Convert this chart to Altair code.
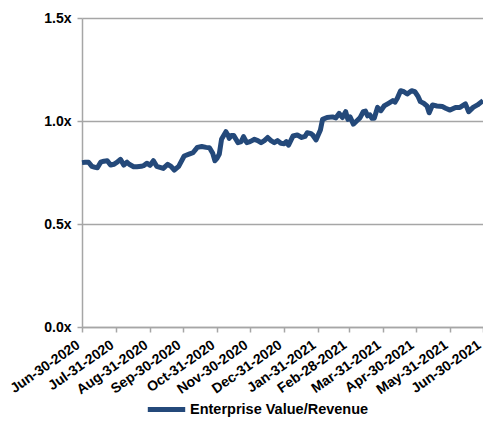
import altair as alt
import pandas as pd

# Days after 2020-06-30 and the EV/Revenue multiple
day_offsets = [0, 3, 6, 9, 12, 14, 17, 20, 23, 26, 29, 32, 35, 38, 41, 43, 47, 50, 54, 56,
               59, 62, 65, 68, 71, 74, 78, 81, 84, 88, 93, 98, 101, 105, 109, 113, 116, 119,
               121, 123, 125, 127, 131, 133, 134, 136, 138, 142, 145, 147, 150, 153, 157, 160,
               163, 166, 169, 172, 175, 178, 181, 184, 186, 188, 192, 196, 200, 203, 205, 208,
               210, 213, 217, 219, 223, 228, 231, 234, 237, 240, 242, 244, 247, 250, 253, 256,
               258, 260, 262, 264, 266, 269, 272, 275, 279, 283, 285, 287, 290, 293, 296, 300,
               303, 306, 308, 311, 314, 316, 319, 323, 328, 331, 335, 340, 344, 349, 352, 356,
               360, 365]
ev_revenue = [0.798, 0.80, 0.80, 0.78, 0.775, 0.773, 0.80, 0.805, 0.807, 0.786, 0.79, 0.80,
              0.814, 0.786, 0.80, 0.79, 0.778, 0.778, 0.78, 0.783, 0.795, 0.785, 0.807, 0.78,
              0.775, 0.77, 0.79, 0.78, 0.762, 0.78, 0.83, 0.84, 0.846, 0.872, 0.876, 0.872,
              0.87, 0.843, 0.807, 0.82, 0.84, 0.911, 0.948, 0.93, 0.916, 0.93, 0.93, 0.895,
              0.90, 0.924, 0.895, 0.90, 0.911, 0.905, 0.895, 0.905, 0.92, 0.905, 0.895, 0.905,
              0.892, 0.89, 0.90, 0.883, 0.927, 0.932, 0.92, 0.925, 0.943, 0.94, 0.932, 0.908,
              0.956, 1.008, 1.017, 1.02, 1.015, 1.037, 1.017, 1.045, 1.008, 1.02, 0.985, 1.0,
              1.015, 1.045, 1.048, 1.025, 1.03, 1.013, 1.013, 1.066, 1.05, 1.073, 1.086, 1.099,
              1.092, 1.11, 1.147, 1.142, 1.131, 1.147, 1.142, 1.118, 1.094, 1.086, 1.073, 1.04,
              1.078, 1.073, 1.07, 1.062, 1.053, 1.066, 1.066, 1.083, 1.045, 1.066, 1.078, 1.099]
series_name = "Enterprise Value/Revenue"

tick_dates = [(2020, 6, 30), (2020, 7, 31), (2020, 8, 31), (2020, 9, 30), (2020, 10, 31),
              (2020, 11, 30), (2020, 12, 31), (2021, 1, 31), (2021, 2, 28), (2021, 3, 31),
              (2021, 4, 30), (2021, 5, 31), (2021, 6, 30)]
y_ticks = [0.0, 0.5, 1.0, 1.5]

start = pd.Timestamp("2020-06-30")
df = pd.DataFrame({
    "date": [(start + pd.Timedelta(days=d)).strftime("%Y-%m-%dT00:00:00") for d in day_offsets],
    "value": ev_revenue,
    "series": series_name,
})

FONT = "Liberation Sans"
GRAY = "#A6A6A6"

chart = alt.Chart(df).mark_line(strokeWidth=5, strokeJoin="round").encode(
    x=alt.X("date:T", title=None,
            scale=alt.Scale(domain=[alt.DateTime(year=2020, month=6, date=30),
                                    alt.DateTime(year=2021, month=6, date=30)]),
            axis=alt.Axis(values=[alt.DateTime(year=y, month=m, date=d) for y, m, d in tick_dates],
                          format="%b-%d-%Y", labelAngle=-35, labelAlign="right",
                          labelBaseline="bottom", labelPadding=17,
                          labelFont=FONT, labelFontSize=14, labelFontWeight="bold",
                          labelColor="black", labelOverlap=False, grid=False,
                          domainColor=GRAY, domainWidth=1.5, tickColor=GRAY, tickWidth=1.5,
                          tickSize=5)),
    y=alt.Y("value:Q", title=None,
            scale=alt.Scale(domain=[0, 1.5], nice=False),
            axis=alt.Axis(values=y_ticks, labelExpr="format(datum.value, '.1f') + 'x'",
                          labelFont=FONT, labelFontSize=14, labelFontWeight="bold",
                          labelColor="black", labelPadding=6,
                          grid=True, gridColor=GRAY, gridWidth=1.5,
                          domainColor=GRAY, domainWidth=1.5, tickColor=GRAY, tickWidth=1.5,
                          tickSize=5)),
    color=alt.Color("series:N", scale=alt.Scale(range=["#24497A"]),
                    legend=alt.Legend(title=None, orient="none", legendX=63, legendY=370,
                                      symbolType="stroke", symbolSize=1400,
                                      symbolStrokeWidth=5, labelFont=FONT,
                                      labelFontSize=14.5, labelFontWeight="bold",
                                      labelColor="black", labelOffset=2, labelLimit=400)),
).properties(
    width=401, height=309,
    autosize=alt.AutoSizeParams(type="none"),
    padding={"left": 74, "top": 10, "right": 0, "bottom": 91},
).configure_view(stroke=None)

chart.save("out.html", embed_options={"renderer": "svg", "actions": False})
